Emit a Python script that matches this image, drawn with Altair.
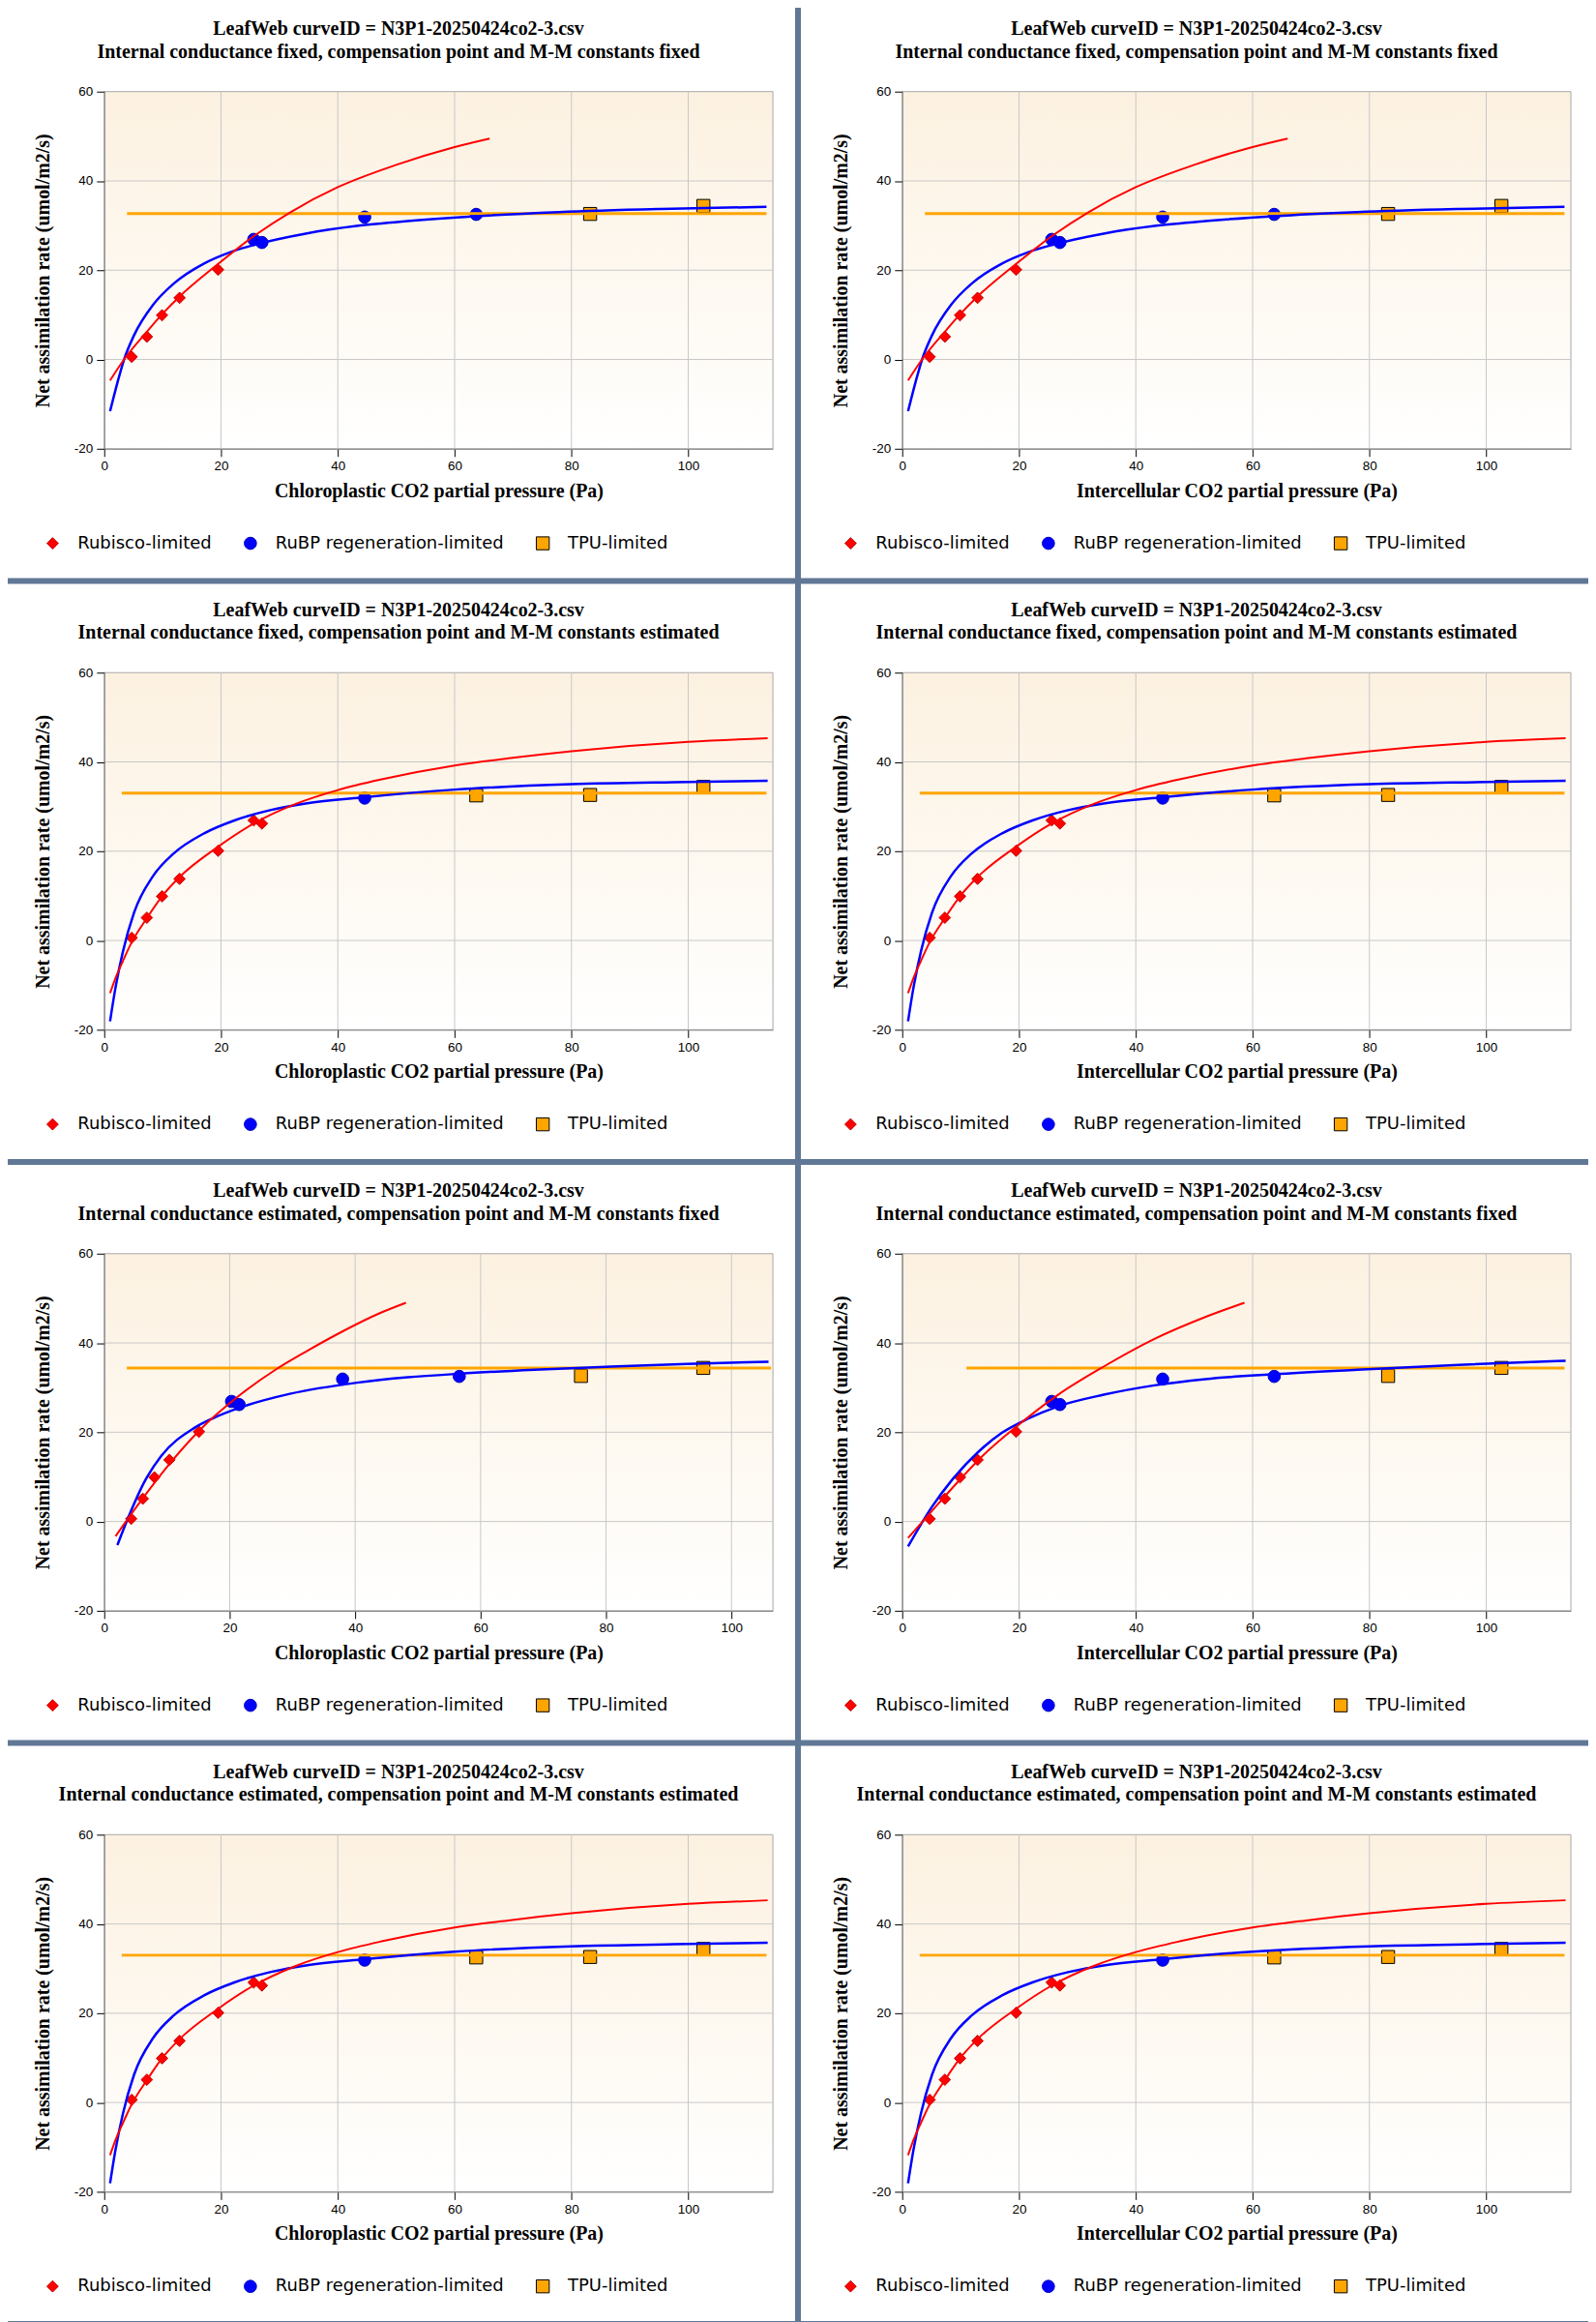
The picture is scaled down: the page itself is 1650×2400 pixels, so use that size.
import altair as alt
import pandas as pd

# ---------------- text ----------------
CURVE_ID = "LeafWeb curveID = N3P1-20250424co2-3.csv"
SUBTITLES = [
    "Internal conductance fixed, compensation point and M-M constants fixed",
    "Internal conductance fixed, compensation point and M-M constants estimated",
    "Internal conductance estimated, compensation point and M-M constants fixed",
    "Internal conductance estimated, compensation point and M-M constants estimated",
]
X_TITLES = ["Chloroplastic CO2 partial pressure (Pa)", "Intercellular CO2 partial pressure (Pa)"]
Y_TITLE = "Net assimilation rate (umol/m2/s)"
SERIES = ["Rubisco-limited", "RuBP regeneration-limited", "TPU-limited"]
X_TICKS = [0, 20, 40, 60, 80, 100]
Y_TICKS = [-20, 0, 20, 40, 60]
Y_MIN, Y_MAX = -20, 60
X_MAX_WIDE = 114.5
X_MAX_NARROW = 106.6

# ---------------- observations ----------------
OBS_X_A = [4.7, 7.3, 9.9, 12.9, 19.5, 25.6, 27.0, 44.6, 63.7, 83.2, 102.6]
OBS_X_C = [4.3, 6.15, 8.0, 10.4, 15.1, 20.3, 21.5, 38.0, 56.6, 76.0, 95.5]
OBS_Y = [0.6, 5.1, 9.9, 13.8, 20.1, 26.9, 26.2, 31.9, 32.5, 32.6, 34.4]
LIMIT_A = ["Rubisco-limited"] * 5 + ["RuBP regeneration-limited"] * 4 + ["TPU-limited"] * 2
LIMIT_B = ["Rubisco-limited"] * 7 + ["RuBP regeneration-limited"] * 1 + ["TPU-limited"] * 3

# ---------------- fitted curves ----------------
# A: gm fixed, Gamma*/Km fixed
RED_A_X = [1.0, 3.4, 7.3, 9.9, 12.9, 19.5, 25.8, 31.9, 40.0, 50.0, 60.0, 66.0]
RED_A_Y = [-4.7, 0.0, 6.2, 10.1, 14.1, 21.4, 27.8, 33.0, 38.6, 43.6, 47.6, 49.5]
BLUE_A_X = [1.0, 2.3, 3.4, 5.1, 8.4, 11.9, 17.1, 21.5, 25.8, 34.5, 43.2, 51.9, 63.7, 77.9, 95.3, 113.4]
BLUE_A_Y = [-11.6, -5.0, 0.0, 5.4, 12.3, 17.0, 21.5, 24.0, 25.7, 28.2, 29.9, 31.0, 32.1, 33.0, 33.7, 34.2]
TPU_A_X = [3.9, 113.4]
TPU_A_Y = [32.7, 32.7]

# B: Gamma*/Km estimated
RED_B_X = [1.0, 2.0, 3.2, 4.7, 7.3, 9.9, 12.9, 19.5, 25.6, 32.8, 40.0, 47.5, 60.0, 69.2, 80.0, 100.0, 113.6]
RED_B_Y = [-11.8, -8.2, -4.6, -0.4, 5.0, 9.9, 14.2, 21.0, 26.2, 30.6, 33.7, 36.1, 39.2, 40.8, 42.4, 44.5, 45.3]
BLUE_B_X = [1.0, 1.9, 3.2, 5.1, 8.4, 11.9, 17.1, 22.3, 28.4, 34.5, 44.6, 60.0, 80.0, 100.0, 113.6]
BLUE_B_Y = [-18.1, -10.8, -2.5, 6.2, 14.5, 19.5, 24.0, 26.9, 29.2, 30.7, 32.1, 33.8, 35.0, 35.5, 35.8]
TPU_B_X = [3.0, 113.4]
TPU_B_Y = [33.0, 33.0]

# C: gm estimated, chloroplastic
RED_C_X = [1.8, 6.15, 10.4, 15.1, 21.7, 27.3, 32.2, 38.7, 43.5, 48.1]
RED_C_Y = [-3.3, 5.2, 12.9, 20.3, 28.4, 34.0, 38.1, 43.1, 46.4, 49.0]
BLUE_C_X = [2.1, 3.75, 6.57, 9.1, 14.3, 17.3, 21.4, 29.6, 40.3, 48.4, 56.6, 68.6, 80.8, 92.9, 105.9]
BLUE_C_Y = [-5.3, 0.6, 9.3, 14.7, 20.9, 23.1, 25.4, 28.6, 31.1, 32.3, 33.1, 34.0, 34.7, 35.3, 35.8]
TPU_C_X = [3.6, 106.3]
TPU_C_Y = [34.4, 34.4]

# D: gm estimated, intercellular
RED_D_X = [1.0, 4.7, 9.9, 13.6, 19.5, 26.7, 34.5, 43.2, 51.9, 58.6]
RED_D_Y = [-3.7, 1.8, 9.4, 14.5, 21.2, 28.4, 34.7, 40.9, 45.8, 49.0]
BLUE_D_X = [1.0, 5.1, 8.4, 12.8, 17.1, 21.5, 26.7, 34.5, 43.2, 51.9, 63.7, 77.9, 95.3, 113.6]
BLUE_D_Y = [-5.6, 3.3, 9.1, 15.3, 19.9, 23.0, 25.8, 28.4, 30.5, 31.9, 33.0, 34.0, 35.1, 36.0]
TPU_D_X = [11.0, 113.4]
TPU_D_Y = [34.4, 34.4]

# ---------------- styles ----------------
BORDER = "#607896"
SERIF = "Liberation Serif"
SANS = "DejaVu Sans"
TICKFONT = "Liberation Sans"
W, H = 693, 370

CURVES = {
    "A": (RED_A_X, RED_A_Y, BLUE_A_X, BLUE_A_Y, TPU_A_X, TPU_A_Y),
    "B": (RED_B_X, RED_B_Y, BLUE_B_X, BLUE_B_Y, TPU_B_X, TPU_B_Y),
    "C": (RED_C_X, RED_C_Y, BLUE_C_X, BLUE_C_Y, TPU_C_X, TPU_C_Y),
    "D": (RED_D_X, RED_D_Y, BLUE_D_X, BLUE_D_Y, TPU_D_X, TPU_D_Y),
}

PANELS = [
    # subtitle idx, x-title idx, curve set, obs x, limitation, x max
    (0, 0, "A", OBS_X_A, LIMIT_A, X_MAX_WIDE),
    (0, 1, "A", OBS_X_A, LIMIT_A, X_MAX_WIDE),
    (1, 0, "B", OBS_X_A, LIMIT_B, X_MAX_WIDE),
    (1, 1, "B", OBS_X_A, LIMIT_B, X_MAX_WIDE),
    (2, 0, "C", OBS_X_C, LIMIT_A, X_MAX_NARROW),
    (2, 1, "D", OBS_X_A, LIMIT_A, X_MAX_WIDE),
    (3, 0, "B", OBS_X_A, LIMIT_B, X_MAX_WIDE),
    (3, 1, "B", OBS_X_A, LIMIT_B, X_MAX_WIDE),
]


def make_panel(sub_i, xt_i, key, obs_x, limit, xmax):
    xsc = alt.Scale(domain=[0, xmax], nice=False, zero=False)
    ysc = alt.Scale(domain=[Y_MIN, Y_MAX], nice=False, zero=False)
    xaxis = alt.Axis(
        values=X_TICKS, title=X_TITLES[xt_i], grid=False, tickSize=8, tickColor="#000000",
        domainColor="#808080", labelFont=TICKFONT, labelFontSize=13.5, labelColor="#000000",
        labelPadding=3, labelFlush=False, titleFont=SERIF, titleFontSize=20,
        titleFontWeight="bold", titleColor="#000000", titlePadding=9, zindex=1,
    )
    yaxis = alt.Axis(
        values=Y_TICKS, title=Y_TITLE, grid=False, tickSize=8, tickColor="#000000",
        domainColor="#808080", labelFont=TICKFONT, labelFontSize=13.5, labelColor="#000000",
        labelPadding=4, labelExpr="'' + datum.value", titleFont=SERIF, titleFontSize=20,
        titleFontWeight="bold", titleColor="#000000", titlePadding=22, zindex=1,
    )
    X = lambda f: alt.X(f, type="quantitative", scale=xsc, axis=xaxis)
    Y = lambda f: alt.Y(f, type="quantitative", scale=ysc, axis=yaxis)

    one = pd.DataFrame({"k": [0]})
    # panel extent (invisible) and white panel face; the border colour is the page background
    extent = alt.Chart(one).mark_rect(fill="#ffffff", fillOpacity=0).encode(
        x=alt.value(-107), x2=alt.value(718), y=alt.value(-94), y2=alt.value(506))
    face = alt.Chart(one).mark_rect(fill="#ffffff").encode(
        x=alt.value(-105), x2=alt.value(716), y=alt.value(-92), y2=alt.value(504))

    box = pd.DataFrame({"x": [0], "x2": [xmax], "y": [Y_MIN], "y2": [Y_MAX]})
    bg = alt.Chart(box).mark_rect(
        fill=alt.Gradient(
            gradient="linear",
            stops=[alt.GradientStop(color="#fcf1e0", offset=0),
                   alt.GradientStop(color="#ffffff", offset=1)],
            x1=0, x2=0, y1=0, y2=1,
        ),
        stroke="#a8a8a8", strokeWidth=1,
    ).encode(x=X("x"), x2="x2", y=Y("y"), y2="y2")

    vgrid = alt.Chart(pd.DataFrame({"x": X_TICKS[1:]})).mark_rule(
        color="#c8c8c8", strokeWidth=1).encode(x=X("x"))
    hgrid = alt.Chart(pd.DataFrame({"y": Y_TICKS[1:-1]})).mark_rule(
        color="#c8c8c8", strokeWidth=1).encode(y=Y("y"))

    rx, ry, bx, by, tx, ty = CURVES[key]
    red = alt.Chart(pd.DataFrame({"x": rx, "y": ry})).mark_line(
        color="#ff0000", strokeWidth=2, interpolate="monotone").encode(x=X("x"), y=Y("y"))
    blue = alt.Chart(pd.DataFrame({"x": bx, "y": by})).mark_line(
        color="#0000ff", strokeWidth=2.5, interpolate="monotone").encode(x=X("x"), y=Y("y"))
    tpu = alt.Chart(pd.DataFrame({"x": tx, "y": ty})).mark_line(
        color="#ffa500", strokeWidth=3).encode(x=X("x"), y=Y("y"))

    legend = alt.Legend(
        orient="none", legendX=-62.5, legendY=459, direction="horizontal", title=None,
        labelFont=SANS, labelFontSize=18, labelColor="#000000", labelOffset=17,
        columnPadding=31, labelLimit=400, padding=0, symbolStrokeWidth=1,
    )
    pts = pd.DataFrame({"x": obs_x, "y": OBS_Y, "lim": limit})
    points = alt.Chart(pts).mark_point(filled=True, opacity=1, strokeWidth=1).encode(
        x=X("x"), y=Y("y"),
        fill=alt.Fill("lim:N", scale=alt.Scale(domain=SERIES, range=["#ff0000", "#0000ff", "#ffa500"]), legend=legend),
        stroke=alt.Stroke("lim:N", scale=alt.Scale(domain=SERIES, range=["#c00000", "#0000c0", "#000000"]), legend=legend),
        shape=alt.Shape("lim:N", scale=alt.Scale(domain=SERIES, range=["diamond", "circle", "square"]), legend=legend),
        size=alt.Size("lim:N", scale=alt.Scale(domain=SERIES, range=[140, 180, 190]), legend=legend),
    )

    title1 = alt.Chart(one).mark_text(
        text=CURVE_ID, font=SERIF, fontSize=20, fontWeight="bold",
        color="#000000", align="center", baseline="alphabetic",
    ).encode(x=alt.value(305), y=alt.value(-58.5))
    title2 = alt.Chart(one).mark_text(
        text=SUBTITLES[sub_i], font=SERIF, fontSize=20, fontWeight="bold",
        color="#000000", align="center", baseline="alphabetic",
    ).encode(x=alt.value(305), y=alt.value(-35))

    return alt.layer(extent, face, bg, vgrid, hgrid, points, tpu, blue, red, title1, title2).properties(width=W, height=H)


panels = [make_panel(*p) for p in PANELS]

chart = alt.concat(*panels, columns=2, spacing=0).resolve_scale(
    x="independent", y="independent", fill="independent", stroke="independent",
    shape="independent", size="independent",
).properties(
    padding={"left": -8, "top": -11, "right": -8, "bottom": -5},
    background=BORDER,
).configure_view(stroke="transparent")

chart.save("out.html", embed_options={"renderer": "svg", "actions": False})
